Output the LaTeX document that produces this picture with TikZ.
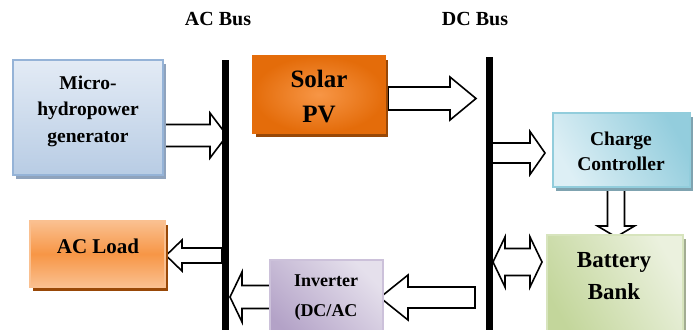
\documentclass[tikz,border=0pt]{standalone}
\usepackage{fontspec}
\setmainfont{Liberation Serif}
\usetikzlibrary{shadows}
\definecolor{mhborder}{HTML}{95B3D7}
\definecolor{mhtop}{HTML}{E3EBF5}
\definecolor{mhbot}{HTML}{B8CCE4}
\definecolor{mhshadow}{HTML}{8FA3BD}
\definecolor{pvdark}{HTML}{E46C0A}
\definecolor{pvlight}{HTML}{F79646}
\definecolor{pvshadow}{HTML}{984807}
\definecolor{ccdark}{HTML}{93CDDD}
\definecolor{cclight}{HTML}{DDEFF5}
\definecolor{ccborder}{HTML}{92CDDC}
\definecolor{ccshadow}{HTML}{7FA3B0}
\definecolor{bbdark}{HTML}{C3D69B}
\definecolor{bblight}{HTML}{EBF1DE}
\definecolor{bbborder}{HTML}{D7E4BD}
\definecolor{bbshadow}{HTML}{A2AC92}
\definecolor{ldlight}{HTML}{FAC090}
\definecolor{lddark}{HTML}{F79646}
\definecolor{ivlight}{HTML}{E5E0EC}
\definecolor{ivdark}{HTML}{B3A2C7}
\definecolor{ivborder}{HTML}{CCC1DA}
\newcommand\blkright[6]{% tail, base, tip, yc, shaft half, head half
  \draw[blk] (#1,#4-#5) -- (#2,#4-#5) -- (#2,#4-#6) -- (#3,#4) -- (#2,#4+#6) -- (#2,#4+#5) -- (#1,#4+#5) -- cycle;}
\newcommand\blkdown[6]{% tail y, base y, tip y, xc, shaft half, head half
  \draw[blk] (#4-#5,#1) -- (#4-#5,#2) -- (#4-#6,#2) -- (#4,#3) -- (#4+#6,#2) -- (#4+#5,#2) -- (#4+#5,#1) -- cycle;}
\begin{document}
\begin{tikzpicture}[x=1pt,y=-1pt,
  blk/.style={draw=black,fill=white,line width=1.6pt,line join=miter},
  bus/.style={line width=7pt,black},
  lbl/.style={font=\bfseries,align=center,inner sep=0pt,text=black},
  boxnode/.style={inner sep=0pt,line width=1.5pt},
  shd/.style={drop shadow={shadow xshift=3pt,shadow yshift=-4pt,fill=#1,opacity=1}}]
\clip (0,0) rectangle (695,329);
\fill[white] (0,0) rectangle (695,329);
% connectors (block arrows)
\blkright{165}{210}{227}{135.5}{11}{22.5}
\blkright{388}{450}{476}{98.5}{11.5}{21.5}
\blkright{490}{530}{545}{153}{10}{21.5}
\blkdown{190}{226}{237}{616}{8.5}{18.5}
\draw[blk] (493,262) -- (505,237) -- (505,248.5) -- (530,248.5) -- (530,237) -- (542,262) -- (530,287) -- (530,275.5) -- (505,275.5) -- (505,287) -- cycle;
\blkright{475}{408}{380}{297.5}{10.5}{22.5}
\blkright{270}{242}{230}{297}{11.5}{25}
\blkright{222}{182}{166}{255.5}{7.5}{15.5}
% buses
\coordinate (acT) at (225.5,60);
\coordinate (acB) at (225.5,335);
\coordinate (dcT) at (489,57);
\coordinate (dcB) at (489,335);
\draw[bus] (acT) -- (acB);
\draw[bus] (dcT) -- (dcB);
% boxes
\node[boxnode,shd=mhshadow,draw=mhborder,top color=mhtop,bottom color=mhbot,
  minimum width=150pt,minimum height=115pt] (micro) at (88,117.5) {};
\node[boxnode,shd=pvshadow,draw=pvdark,inner color=pvlight,outer color=pvdark,
  minimum width=132pt,minimum height=77pt] (pv) at (319,94.5) {};
\node[boxnode,shd=ccshadow,draw=ccborder,left color=ccdark,right color=cclight,shading angle=-60,
  minimum width=137pt,minimum height=74pt] (cc) at (621.5,150) {};
\node[boxnode,shd=bbshadow,draw=bbborder,left color=bblight,right color=bbdark,shading angle=-60,
  minimum width=136pt,minimum height=105pt] (bb) at (615,287.5) {};
\node[boxnode,shd=pvshadow,draw=ldlight,top color=ldlight,bottom color=ldlight,middle color=lddark,
  minimum width=135pt,minimum height=66pt] (load) at (97.5,254) {};
\node[boxnode,draw=ivborder,left color=ivlight,right color=ivdark,shading angle=-45,
  minimum width=113pt,minimum height=85pt] (inv) at (326.5,302.5) {};
% texts
\node[lbl,font=\fontsize{20}{24}\selectfont\bfseries,anchor=base] (acbus) at (218,26) {AC Bus};
\node[lbl,font=\fontsize{20}{24}\selectfont\bfseries,anchor=base] (dcbus) at (475,26) {DC Bus};
\node[lbl,font=\fontsize{19.5}{26.5}\selectfont\bfseries] (microtxt) at (88,111) {Micro-\\hydropower\\generator};
\node[lbl,font=\fontsize{25}{35}\selectfont\bfseries] (pvtxt) at (319,97) {Solar\\PV};
\node[lbl,font=\fontsize{19.5}{25}\selectfont\bfseries] (cctxt) at (621,151) {Charge\\Controller};
\node[lbl,font=\fontsize{23}{32}\selectfont\bfseries] (bbtxt) at (614,276) {Battery\\Bank};
\node[lbl,font=\fontsize{21}{25}\selectfont\bfseries,anchor=base] (loadtxt) at (98,253) {AC Load};
\node[lbl,font=\fontsize{18}{30}\selectfont\bfseries] (invtxt) at (326,298) {Inverter\\(DC/AC};
\end{tikzpicture}
\end{document}
